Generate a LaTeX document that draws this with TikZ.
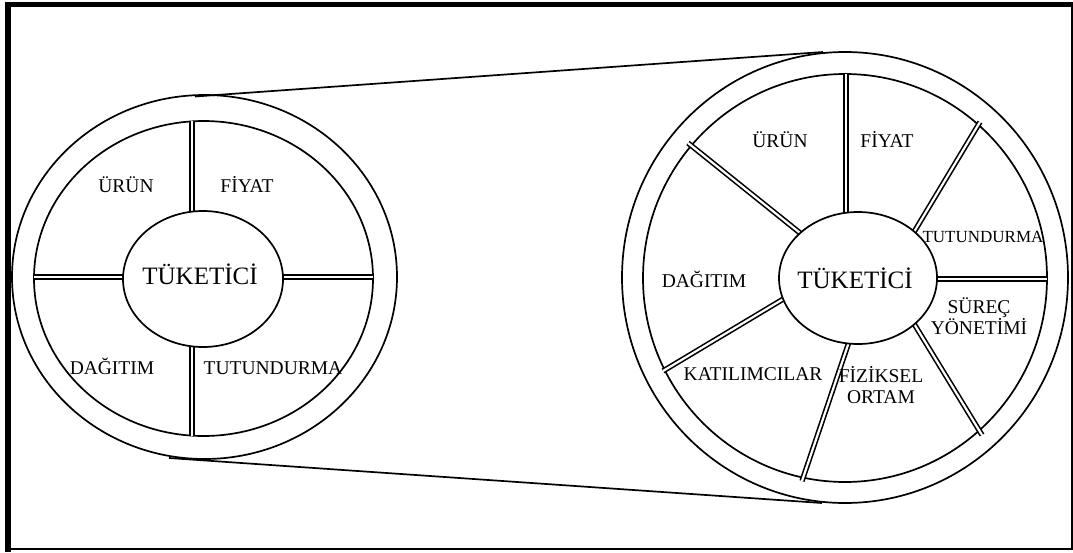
\documentclass[tikz,border=0pt]{standalone}
\usepackage{fontspec}
\setmainfont{Liberation Serif}
\usetikzlibrary{shapes.geometric}
\begin{document}
\begin{tikzpicture}[x=1pt,y=-1pt,
  ring/.style={draw, ellipse, line width=1.7pt, inner sep=0pt, outer sep=0pt},
  spoke/.style={double, double distance=2.2pt, line width=1.6pt},
  lbl/.style={font=\fontsize{19.5}{21}\selectfont, inner sep=0pt, anchor=base},
  lbltwo/.style={font=\fontsize{19.5}{21}\selectfont, inner sep=0pt, align=center},
  hub/.style={ring, fill=white, font=\fontsize{25}{28}\selectfont},
  link/.style={line width=1.7pt}]
\useasboundingbox (0,0) rectangle (1073,552);
% frame
\coordinate (F1) at (8,552);
\coordinate (F2) at (8,4.5);
\coordinate (F3) at (1073,4.5);
\coordinate (F4) at (1072,4);
\coordinate (F5) at (1072,550);
\coordinate (F6) at (5,549);
\draw[line width=6pt] (F1) -- (F2);
\draw[line width=5pt] (5,4.5) -- (F3);
\draw[line width=2pt] (F4) -- (F5);
\draw[line width=2pt] (F6) -- (1073,549);

% ---------- left wheel ----------
\node[ring, minimum width=385pt, minimum height=364pt] (LO) at (204.5,277) {};
\node[ring, minimum width=339pt, minimum height=315pt] (LI) at (203.5,278.5) {};
\coordinate (L1o) at (192,121.4); \coordinate (L1i) at (192,240);
\coordinate (L2o) at (192,435.6); \coordinate (L2i) at (192,320);
\coordinate (L3o) at (34,277);    \coordinate (L3i) at (150,277);
\coordinate (L4o) at (373,277);   \coordinate (L4i) at (260,277);
\draw[spoke] (L1o) -- (L1i);
\draw[spoke] (L2o) -- (L2i);
\draw[spoke] (L3o) -- (L3i);
\draw[spoke] (L4o) -- (L4i);
\node[hub, minimum width=160pt, minimum height=136pt] (LH) at (203,279) {};
\node[lbl, font=\fontsize{25}{28}\selectfont] (LT) at (200,284.5) {TÜKETİCİ};
\node[lbl] (L-urun) at (126,192.5) {ÜRÜN};
\node[lbl] (L-fiyat) at (247,192.5) {FİYAT};
\node[lbl] (L-dag) at (112,374.5) {DAĞITIM};
\node[lbl] (L-tut) at (273,374.5) {TUTUNDURMA};

% ---------- right wheel ----------
\node[ring, minimum width=446pt, minimum height=451pt] (RO) at (845,277.5) {};
\node[ring, minimum width=404pt, minimum height=408pt] (RI) at (845,278) {};
\coordinate (R1o) at (846,74);   \coordinate (R1i) at (846,240);
\coordinate (R2o) at (688,143);  \coordinate (R2i) at (820,249);
\coordinate (R3o) at (980,122);  \coordinate (R3i) at (905,247);
\coordinate (R4o) at (1047,279); \coordinate (R4i) at (920,279);
\coordinate (R5o) at (982,435);  \coordinate (R5i) at (905,309);
\coordinate (R6o) at (802,481);  \coordinate (R6i) at (852,333);
\coordinate (R7o) at (663,371);  \coordinate (R7i) at (795,292);
\draw[spoke] (R1o) -- (R1i);
\draw[spoke] (R2o) -- (R2i);
\draw[spoke] (R3o) -- (R3i);
\draw[spoke] (R4o) -- (R4i);
\draw[spoke] (R5o) -- (R5i);
\draw[spoke] (R6o) -- (R6i);
\draw[spoke] (R7o) -- (R7i);
\node[hub, minimum width=158pt, minimum height=132pt] (RH) at (858,278) {};
\node[lbl, font=\fontsize{25}{28}\selectfont] (RT) at (855,288.5) {TÜKETİCİ};
\node[lbl] (R-urun) at (780,147.5) {ÜRÜN};
\node[lbl] (R-fiyat) at (887,147.5) {FİYAT};
\node[lbl, font=\fontsize{17}{19}\selectfont] (R-tut) at (983,242.6) {TUTUNDURMA};
\node[lbl] (R-dag) at (704,287.5) {DAĞITIM};
\node[lbl] (R-kat) at (753,380.5) {KATILIMCILAR};
\node[lbltwo] (R-sur) at (979,316.5) {SÜREÇ\\YÖNETİMİ};
\node[lbltwo] (R-fiz) at (881,385.5) {FİZİKSEL\\ORTAM};

% ---------- connecting lines ----------
\coordinate (T1) at (195,96.5); \coordinate (T2) at (823,52);
\coordinate (B1) at (169,458);  \coordinate (B2) at (822,503);
\draw[link] (T1) -- (T2);
\draw[link] (B1) -- (B2);
\end{tikzpicture}
\end{document}
